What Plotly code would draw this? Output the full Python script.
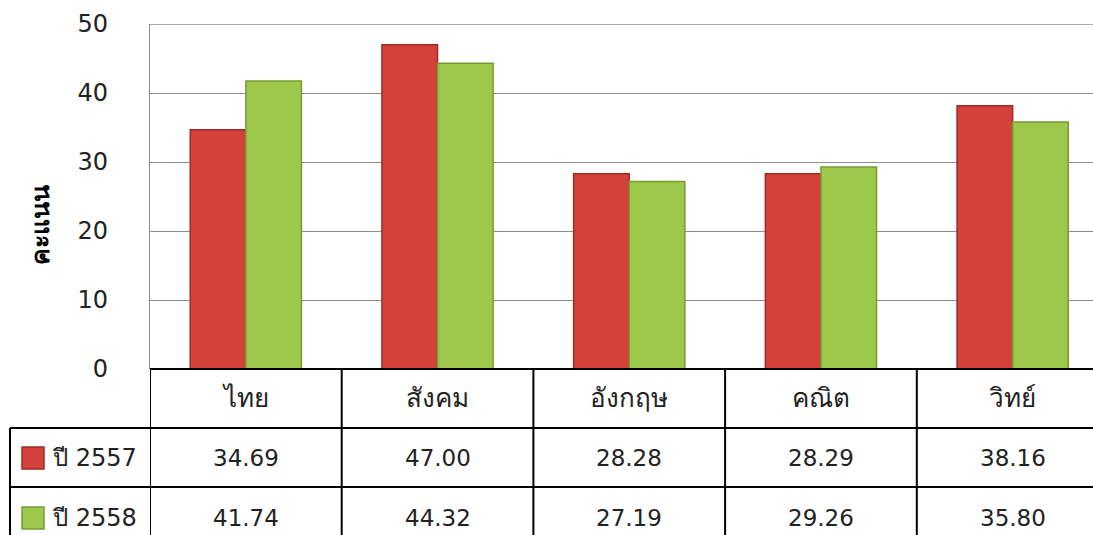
import plotly.graph_objects as go

categories = ["ไทย", "สังคม", "อังกฤษ", "คณิต", "วิทย์"]
series_names = ["ปี 2557", "ปี 2558"]
values_2557 = [34.69, 47.00, 28.28, 28.29, 38.16]
values_2558 = [41.74, 44.32, 27.19, 29.26, 35.80]
y_ticks = [0, 10, 20, 30, 40, 50]
y_title = "คะแนน"

FONT = "'DejaVu Sans', 'Noto Sans', sans-serif"
TXT = "#222222"
RED = "#d4413b"
RED_LINE = "#9c2c28"
GREEN = "#9dc84b"
GREEN_LINE = "#789a36"
GRID = "#8c8c8c"

W, H = 1093, 535
L, T = 150, 24
PLOT_BOTTOM = 369
B = H - PLOT_BOTTOM
plot_h = PLOT_BOTTOM - T
plot_w = W - L
cat_w = 191.7

def py(pix):
    return (PLOT_BOTTOM - pix) / plot_h

def px(pix):
    return (pix - L) / plot_w

xs = list(range(len(categories)))
x_max = -0.5 + plot_w / cat_w

fig = go.Figure()
fig.add_trace(go.Bar(x=xs, y=values_2557, name=series_names[0],
                     marker=dict(color=RED, line=dict(color=RED_LINE, width=1.5))))
fig.add_trace(go.Bar(x=xs, y=values_2558, name=series_names[1],
                     marker=dict(color=GREEN, line=dict(color=GREEN_LINE, width=1.5))))

fig.update_layout(
    width=W, height=H,
    margin=dict(l=L, r=0, t=T, b=B),
    paper_bgcolor="white", plot_bgcolor="white",
    barmode="group", bargap=0.42, bargroupgap=0,
    showlegend=False,
    font=dict(family=FONT, size=24, color=TXT),
)
fig.update_xaxes(range=[-0.5, x_max], showticklabels=False, showgrid=False,
                 zeroline=False, showline=False)
fig.update_yaxes(range=[0, 50], tickvals=y_ticks, showgrid=True,
                 gridcolor=GRID, gridwidth=1.3, zeroline=False,
                 showline=True, linecolor=GRID, linewidth=1.3,
                 ticks="", ticklabelstandoff=36,
                 tickfont=dict(family=FONT, size=24, color=TXT))

# top gridline at the axis maximum
fig.add_shape(type="line", xref="paper", yref="y", x0=0, x1=1,
              y0=y_ticks[-1], y1=y_ticks[-1], line=dict(color=GRID, width=1.3), layer="below")

line = dict(color="black", width=2)
fig.add_shape(type="line", xref="paper", yref="paper", x0=0, x1=1, y0=0, y1=0, line=line)
for yy in (428, 487):
    fig.add_shape(type="line", xref="paper", yref="paper", x0=px(10), x1=1,
                  y0=py(yy), y1=py(yy), line=line)
fig.add_shape(type="line", xref="paper", yref="paper", x0=px(10), x1=px(10),
              y0=py(428), y1=py(H + 5), line=line)
for i in range(len(categories)):
    fig.add_shape(type="line", xref="x", yref="paper", x0=i - 0.5, x1=i - 0.5,
                  y0=0, y1=py(H + 5), line=line)

row_y = [398, 458, 518]
for i, c in enumerate(categories):
    fig.add_annotation(x=i, y=py(row_y[0]), xref="x", yref="paper", text=c,
                       showarrow=False, xanchor="center", yanchor="middle",
                       font=dict(family=FONT, size=26, color=TXT))
    fig.add_annotation(x=i, y=py(row_y[1]), xref="x", yref="paper",
                       text=f"{values_2557[i]:.2f}", showarrow=False,
                       xanchor="center", yanchor="middle",
                       font=dict(family=FONT, size=23, color=TXT))
    fig.add_annotation(x=i, y=py(row_y[2]), xref="x", yref="paper",
                       text=f"{values_2558[i]:.2f}", showarrow=False,
                       xanchor="center", yanchor="middle",
                       font=dict(family=FONT, size=23, color=TXT))

for k, (name, col, lc) in enumerate([(series_names[0], RED, RED_LINE),
                                      (series_names[1], GREEN, GREEN_LINE)]):
    cy = row_y[k + 1]
    fig.add_shape(type="rect", xref="paper", yref="paper",
                  x0=px(22), x1=px(44), y0=py(cy + 11), y1=py(cy - 11),
                  fillcolor=col, line=dict(color=lc, width=1.5))
    fig.add_annotation(x=px(50), y=py(cy), xref="paper", yref="paper", text=name,
                       showarrow=False, xanchor="left", yanchor="middle",
                       font=dict(family=FONT, size=24, color=TXT))

fig.add_annotation(x=px(40), y=py(225), xref="paper", yref="paper", text=f"<b>{y_title}</b>",
                   textangle=-90, showarrow=False, xanchor="center", yanchor="middle",
                   font=dict(family=FONT, size=25, color="#000000"))

fig.write_html("out.html", config={"displayModeBar": False},
               post_script="document.body.style.margin='0';document.body.style.overflow='hidden';")
